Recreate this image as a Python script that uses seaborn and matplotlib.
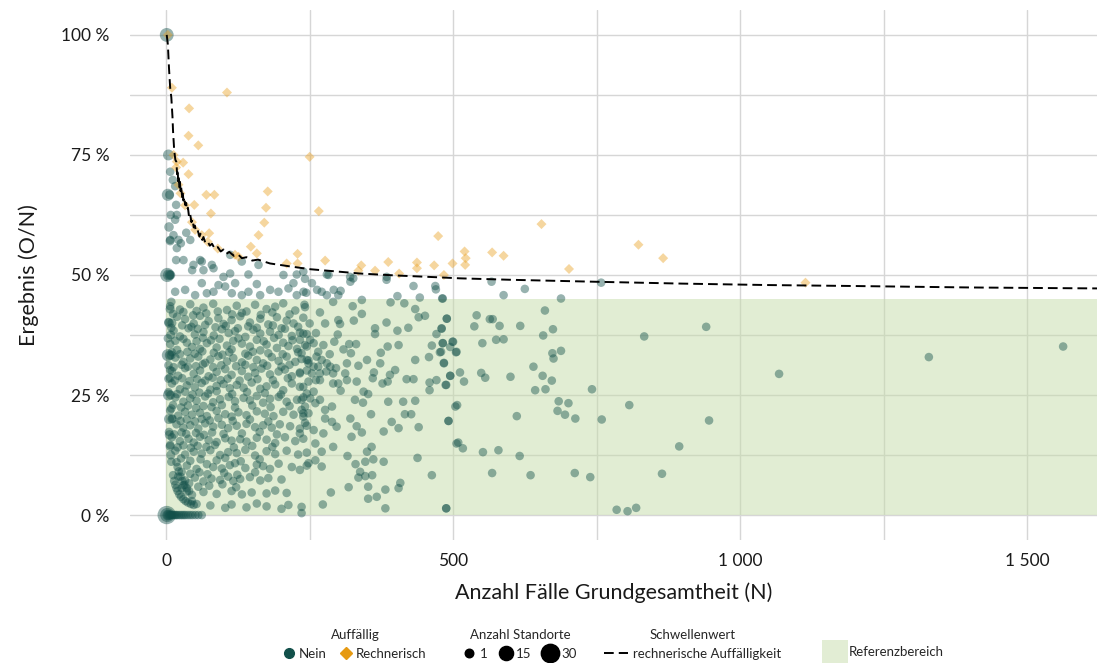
import matplotlib
matplotlib.use("Agg")
import matplotlib.pyplot as plt
from matplotlib.lines import Line2D
from matplotlib.patches import Patch, Rectangle
import seaborn as sns
import pandas as pd

# ---------------- data ----------------
# small-N sites with several Standorte: (N, Ergebnis %, Anzahl Standorte)
small_pts = [(1, 0, 30), (2, 0, 15), (3, 0, 6), (4, 0, 4), (1, 100, 14), (2, 50, 15), (4, 50, 6),
             (6, 50, 3), (8, 50, 2), (3, 33.3, 9), (6, 33.3, 3), (9, 33.3, 2), (4, 25, 6), (8, 25, 2),
             (5, 20, 4), (10, 20, 2), (5, 40, 3), (10, 40, 2), (3, 66.7, 9), (4, 75, 6), (5, 60, 3),
             (6, 16.7, 3), (7, 28.6, 2), (7, 14.3, 2), (8, 37.5, 2), (9, 22.2, 1), (10, 30, 1),
             (7, 42.9, 2), (8, 12.5, 2), (9, 44.4, 1), (9, 11.1, 1), (7, 57.1, 2), (6, 66.7, 2), (8, 62.5, 1)]

zero_N = [5, 7, 9, 11, 13, 15, 17, 19, 22, 25, 28, 31, 34, 38, 42, 46, 51, 56, 62]

arc_pts = [(12, 8.3), (14, 7.1), (16, 6.3), (18, 5.6), (20, 5), (23, 4.3), (26, 3.8), (30, 3.3),
           (34, 2.9), (38, 2.6), (43, 2.3), (48, 2.1), (20, 10), (22, 9.1), (25, 8), (28, 7.1),
           (32, 6.3), (36, 5.6), (40, 5)]

curve_pts = [(7, 71.5), (11.6, 69.8), (15.7, 68.5), (17.4, 64.6), (18.6, 62.5), (15.7, 61.5), (12.8, 58.3),
             (21.5, 57.3), (7, 57.3), (35, 58.8), (42, 57.3), (25.6, 56.6), (18.6, 55.6), (17.4, 53.1),
             (30.2, 53.1), (47.6, 52.1), (62.1, 52.8), (79.6, 52.1), (45.3, 51), (65, 51), (82.5, 51.4),
             (111.5, 50.3), (143.4, 50.1), (160.9, 52.1), (131.8, 52.8), (204.4, 50), (227.6, 50.1),
             (280, 50.1), (320.6, 49.6), (384.4, 49.6), (99.9, 49.6), (59.2, 53.1), (111.5, 54.2)]

top_pts = [(15.7, 46.5), (33.1, 46.9), (50.5, 45.8), (62.1, 48.3), (70.9, 46.2), (91.2, 47.9), (102.8, 47.6),
           (120.2, 48.3), (131.8, 45.8), (143.4, 46.5), (163.8, 45.8), (181.2, 46.9), (195.7, 46.5),
           (213.1, 47.2), (227.6, 45.8), (239.3, 46.5), (158, 48.1), (221.8, 48.3), (82.5, 46.5), (114.4, 46.2)]

dense_pts = [
    (7, 43.5), (24, 42.8), (42, 43.9), (53, 42.5), (65, 43.2), (82, 44.0), (106, 42.7), (123, 43.6), (140, 42.4),
    (155, 43.8), (175, 42.9), (190, 43.4), (204, 44.1), (225, 42.6), (242, 43.3),
    (4, 40.2), (19, 41.3), (33, 40.8), (48, 39.9), (59, 41.5), (74, 40.4), (91, 41.0), (100, 39.8), (114, 40.6),
    (129, 41.4), (146, 40.1), (164, 40.9), (178, 39.7), (193, 41.2), (210, 40.5), (222, 39.9), (239, 41.1),
    (13, 38.4), (24, 37.2), (39, 38.9), (50, 37.6), (65, 38.1), (83, 37.4), (97, 38.7), (109, 37.9), (120, 38.3),
    (138, 37.1), (152, 38.6), (164, 37.8), (181, 38.2), (196, 37.5), (207, 38.8), (219, 37.3), (233, 38.0), (245, 37.7),
    (7, 35.6), (19, 34.4), (36, 35.9), (45, 35.0), (59, 34.6), (71, 35.8), (88, 34.9), (106, 35.3), (114, 34.5),
    (132, 35.7), (146, 35.1), (164, 34.3), (175, 35.5), (193, 34.8), (204, 35.9), (213, 35.2), (228, 34.6), (242, 35.4),
    (16, 32.8), (30, 31.9), (42, 32.6), (56, 33.0), (68, 31.7), (77, 32.4), (91, 33.1), (106, 32.0), (117, 32.7),
    (132, 31.8), (143, 33.2), (158, 32.3), (169, 31.6), (184, 32.9), (196, 32.1), (210, 33.0), (225, 31.9), (236, 32.5), (248, 32.2),
    (7, 30.2), (21, 29.0), (33, 30.6), (48, 29.4), (59, 30.1), (74, 28.9), (88, 29.8), (103, 30.4), (114, 29.2),
    (132, 30.0), (143, 28.8), (155, 29.6), (166, 30.5), (181, 29.3), (196, 29.9), (207, 30.3), (219, 28.9), (233, 29.7), (245, 30.1),
    (10, 27.4), (24, 26.2), (36, 27.0), (50, 26.6), (62, 27.5), (77, 26.1), (88, 26.9), (100, 27.3), (111, 26.4),
    (123, 27.1), (135, 26.5), (149, 27.6), (164, 26.3), (175, 26.8), (190, 27.2), (204, 26.0), (219, 27.4), (233, 26.7),
    (16, 24.5), (30, 23.6), (42, 24.3), (53, 23.8), (68, 24.7), (82, 23.5), (94, 24.1), (109, 24.6), (120, 23.7),
    (135, 24.4), (146, 23.9), (158, 24.8), (169, 23.4), (181, 24.2), (196, 24.6), (210, 23.6), (228, 24.0), (239, 24.5),
    (7, 21.8), (21, 20.7), (33, 21.5), (45, 20.9), (59, 21.3), (71, 20.6), (88, 21.7), (103, 21.0), (114, 20.5),
    (126, 21.4), (140, 20.8), (158, 21.6), (172, 21.1), (187, 20.6), (204, 21.5), (222, 20.9), (239, 21.2),
    (18, 18.9), (30, 18.2), (42, 18.7), (56, 18.0), (68, 19.1), (82, 18.4), (97, 18.8), (108, 18.1), (123, 18.6),
    (140, 19.0), (155, 18.3), (169, 18.7), (184, 18.2), (198, 18.9), (216, 18.5), (233, 18.0), (245, 18.6),
    (10, 16.2), (24, 15.4), (39, 15.9), (48, 15.1), (59, 16.3), (74, 15.6), (88, 15.2), (103, 16.0), (114, 15.5),
    (129, 15.8), (140, 15.3), (158, 16.1), (175, 15.7), (190, 15.0), (207, 16.2), (225, 15.4), (239, 15.9),
    (16, 13.4), (33, 12.6), (48, 13.2), (62, 12.8), (77, 13.5), (94, 12.5), (108, 13.1), (123, 12.9), (138, 13.6),
    (155, 12.4), (175, 13.3), (190, 12.7), (210, 13.4), (230, 12.6), (245, 13.0),
    (18, 11.0), (36, 10.3), (53, 9.6), (71, 10.6), (82, 10.0), (97, 9.7), (111, 10.4), (120, 10.8), (138, 9.8),
    (158, 10.5), (169, 10.2), (181, 9.6), (196, 10.7), (219, 10.0), (245, 10.3),
    (21, 8.0), (33, 7.2), (50, 7.8), (65, 7.0), (79, 7.6), (94, 7.3), (108, 8.0), (117, 7.1), (129, 7.5),
    (146, 7.9), (164, 7.2), (178, 7.7), (201, 7.4),
    (27, 5.6), (36, 4.9), (45, 4.2), (65, 4.8), (88, 4.4), (114, 5.0), (132, 4.3), (149, 4.7), (175, 4.5), (190, 5.1), (210, 4.6),
    (45, 2.9), (53, 2.3), (77, 2.0), (103, 1.5), (114, 2.2), (140, 1.6), (158, 2.4), (175, 1.8), (201, 1.3), (213, 2.1), (236, 1.7)]

dense2_pts = [
    (12, 41.9), (30, 42.3), (47, 41.6), (70, 42.0), (90, 42.4), (115, 41.8), (132, 42.1), (165, 41.7), (185, 42.2), (215, 41.8),
    (9, 39.0), (28, 39.5), (44, 39.2), (55, 38.8), (68, 39.6), (86, 39.1), (104, 39.4), (125, 38.9), (143, 39.3),
    (158, 39.0), (186, 39.5), (201, 38.9), (230, 39.2),
    (3, 36.8), (16, 36.3), (30, 36.7), (53, 36.2), (64, 36.9), (78, 36.4), (93, 36.7), (117, 36.3), (126, 36.8),
    (158, 36.5), (170, 36.2), (188, 36.9), (220, 36.4),
    (10, 33.9), (24, 33.5), (37, 34.0), (50, 33.6), (63, 34.1), (83, 33.8), (98, 33.4), (110, 33.9), (138, 33.6),
    (151, 34.0), (178, 33.7), (203, 33.5), (230, 33.9),
    (4, 31.2), (13, 30.8), (27, 31.3), (38, 30.9), (52, 31.0), (64, 31.4), (82, 30.8), (96, 31.2), (122, 31.0),
    (138, 31.3), (152, 30.8), (176, 31.1), (201, 30.9), (215, 31.3),
    (4, 28.4), (15, 28.0), (28, 28.5), (41, 27.9), (54, 28.3), (68, 28.0), (81, 28.6), (95, 28.1), (107, 28.4),
    (128, 28.0), (159, 28.3), (186, 28.1), (212, 28.5),
    (4, 25.6), (19, 25.2), (33, 25.7), (46, 25.1), (58, 25.5), (73, 25.3), (88, 25.8), (115, 25.2), (141, 25.6),
    (172, 25.4), (200, 25.1),
    (12, 22.9), (26, 22.4), (38, 22.8), (52, 22.3), (65, 22.7), (79, 22.5), (97, 22.9), (120, 22.4), (150, 22.8),
    (182, 22.5), (215, 22.7),
    (11, 20.1), (25, 19.6), (36, 19.9), (50, 19.5), (62, 20.0), (76, 19.7), (91, 20.2), (116, 19.6), (146, 19.9), (178, 19.5),
    (5, 17.3), (14, 16.8), (27, 17.2), (35, 16.9), (52, 17.1), (66, 16.7), (80, 17.2), (100, 16.9), (132, 17.0),
    (163, 17.3), (193, 16.8),
    (7, 14.6), (20, 14.1), (30, 14.5), (43, 14.0), (55, 14.4), (70, 14.2), (85, 14.6), (118, 14.1), (150, 14.4), (185, 14.2),
    (26, 11.8), (42, 11.3), (60, 11.6), (88, 11.4), (103, 11.9), (130, 11.2), (163, 11.6),
    (27, 9.0), (42, 8.6), (58, 8.9), (72, 8.5), (101, 8.8), (124, 8.4), (155, 8.9),
    (30, 6.2), (40, 6.6), (56, 5.9), (75, 6.1), (98, 6.4), (122, 5.8)]

mid_pts = [
    (242, 49.2), (254, 48.3), (263, 46.9), (271, 46.5), (280, 45.8), (292, 46.9), (304, 46.7), (300, 45.8), (283, 50),
    (326, 49.3), (321, 48.6), (384, 49), (403, 45.6), (431, 47.7), (442, 45.3), (469, 47.7), (470, 47), (481, 45.1),
    (244, 46.3), (239, 50.7),
    (241, 43.8), (268, 42.2), (277, 39.9), (300, 40.6), (303, 39.8), (291, 44.4), (325, 43.5), (341, 44.8), (341, 41.9),
    (327, 40.5), (391, 44.3), (415, 44.1), (434, 42.9), (440, 41.2), (451, 41.5), (489, 40.9), (384, 40.1), (364, 38.9),
    (364, 37.7), (403, 38.4), (422, 39), (471, 37.7), (480, 38.9), (482, 35.8), (500, 36.1), (506, 34), (463, 35.3),
    (477, 33.9), (458, 32.9), (484, 31.6), (495, 29), (487, 27.1), (471, 28.1), (459, 27.6), (459, 26), (419, 28.3),
    (431, 28.3), (434, 32.3), (399, 30.2), (390, 29.2), (386, 27.8), (377, 27.4), (373, 31.6), (362, 29.7), (360, 28.5),
    (350, 32.3), (335, 31.1), (315, 31.6), (312, 29.5), (315, 28.1), (332, 27.8), (322, 33.7), (309, 34.5), (319, 35.6),
    (331, 35.6), (386, 35.1), (405, 35.4), (374, 33.8), (299, 37.6), (293, 36.1), (285, 33.5), (274, 35.4), (261, 37.9),
    (250, 39.9), (251, 36.5), (245, 35.1), (236, 33.7), (248, 31.6), (262, 33), (265, 30.9), (268, 29.5), (279, 29.9),
    (291, 29.5), (296, 30.6), (300, 27.4), (304, 25.9), (261, 28.1), (248, 27.8), (257, 25.7), (251, 24.3), (242, 22.6),
    (236, 21.9), (268, 24), (277, 21.9), (291, 27.4), (289, 22.6), (277, 20.1), (289, 19.4), (297, 18.4), (274, 17),
    (257, 17.7), (242, 19.2), (260, 14.9), (271, 13.2), (260, 11.4), (248, 10.8), (271, 10.1), (291, 14.2), (316, 12.3),
    (323, 16.3), (321, 20.1), (329, 24), (344, 25.7), (352, 25.2), (343, 23.4), (357, 21), (332, 18.5), (341, 17.2),
    (379, 17.4), (393, 19.4), (405, 18.1), (413, 23.6), (427, 21), (416, 21), (440, 18.3), (434, 23.8), (387, 23.6),
    (358, 14.2), (350, 13.2), (347, 11.1), (361, 11.6), (379, 11.1), (330, 10.6), (338, 9), (335, 7.8), (347, 8.1),
    (359, 8.3), (352, 5.9), (318, 5.8), (352, 3.4), (367, 3.8), (382, 5.3), (405, 5.6), (408, 6.7), (382, 1.4),
    (438, 11.9), (463, 8.3), (488, 1.4), (506, 14.9), (507, 22.9), (492, 19.6), (287, 4.7), (273, 2.2), (236, 0.4),
    (233, 9.4), (233, 17), (233, 29.5), (233, 36.5),
    (239, 37.8), (257, 35.8), (265, 34), (245, 32.3), (254, 29.5), (268, 28.1), (239, 26.7), (245, 25.3), (236, 24),
    (260, 23.3), (239, 20.5), (248, 21.2), (271, 32.3), (280, 31.6), (286, 30.9), (257, 30.9)]

far_pts = [
    (567, 48.6), (588, 45.8), (625, 47.1), (758, 48.4), (688, 45.1), (482, 45.1), (660, 42.6), (541, 41.6), (564, 40.8),
    (569, 40.8), (537, 39.3), (581, 39.4), (617, 39.4), (674, 38.7), (657, 37.4), (489, 40.9), (480, 38.8), (941, 39.2),
    (833, 37.2), (575, 36.5), (588, 36.6), (551, 35.8), (499, 36.1), (482, 35.8), (495, 35), (505, 33.9), (479, 34),
    (673, 33.7), (675, 32.6), (688, 34.2), (484, 31.7), (640, 30.9), (512, 29.7), (495, 29), (488, 27.1), (519, 27.8),
    (549, 29.6), (556, 28.6), (600, 28.8), (656, 29), (672, 28), (643, 26), (661, 26.2), (742, 26.2), (684, 23.7),
    (701, 23.3), (682, 21.7), (695, 20.9), (713, 20.1), (759, 19.9), (807, 22.9), (946, 19.7), (894, 14.3), (864, 8.6),
    (504, 22.6), (492, 19.6), (611, 20.6), (509, 15.1), (517, 13.9), (552, 13.1), (579, 13.5), (616, 12.3), (568, 8.75),
    (635, 8.3), (712, 8.75), (739, 7.9), (488, 1.4), (785, 1.1), (804, 0.8), (819, 1.5), (1068, 29.4), (1329, 32.9),
    (1563, 35.1)]

# rechnerisch auffällige Standorte (N, Ergebnis %)
rech_pts = [
    (3, 100), (10, 89), (106, 88), (40, 84.7), (39, 79), (56, 77), (250, 74.6), (18.6, 73.6), (29.6, 73.4), (39, 71),
    (21.5, 68.8), (17.4, 72.4), (70, 66.7), (84, 66.7), (177, 67.4), (49, 64.6), (78, 62.8), (174, 64), (266, 63.3),
    (171, 60.9), (75, 58.7), (161, 58.3), (50.5, 59.4), (72.6, 56.9), (147.5, 55.9), (158, 54.5), (229, 54.4),
    (229, 52.4), (210, 52.4), (277, 53), (126, 53.8), (340, 52), (387, 52.7), (437, 52.6), (437, 51.4), (467, 52),
    (499, 52.4), (364, 50.9), (406, 50.3), (335, 50.9), (484, 50), (474, 58.1), (520, 54.9), (522, 53.5), (521, 52.1),
    (568, 54.7), (588, 54), (654, 60.6), (823, 56.3), (866, 53.5), (702, 51.25), (1114, 48.4), (13, 75), (25, 67),
    (33, 64.5), (45, 61), (62, 58.3), (90, 55.5), (120, 54.2)]

# Schwellenwert (rechnerische Auffälligkeit), read along the dashed (saw-toothed) curve
thr_N = [1, 3, 5, 7, 9, 11, 12, 14, 16, 18, 19, 20, 21, 22, 23, 24, 25, 26, 28, 29, 30, 32, 33, 35, 36, 38, 40,
         42, 44, 46, 48, 50, 52, 55, 58, 60, 63, 65, 68, 72, 76, 80, 85, 90, 95, 100, 105, 110, 118, 125, 132,
         140, 150, 160, 181, 215, 251, 300, 338, 400, 477, 512, 600, 744, 900, 1050, 1200, 1400, 1622]
thr_y = [100, 98, 93, 89, 87, 83, 80, 76, 74, 73.5, 71, 72, 69.5, 70.5, 68.3, 69.4, 67.5, 68.4, 66.2, 67.2, 65.5,
         66.2, 64.6, 65, 63.5, 64, 62, 62.6, 61, 61.6, 59.9, 60.3, 59, 59.3, 58, 58.6, 57.3, 57.9, 56.8, 57.1, 56.1,
         56.5, 55.4, 55.8, 54.9, 55.3, 54.4, 54.8, 54, 54.3, 53.5, 53.7, 53, 53.2, 52.4, 51.8, 51.2, 50.7, 50.3,
         49.9, 49.5, 49.3, 49, 48.6, 48.2, 47.9, 47.7, 47.4, 47.2]

ref_low, ref_high = 0, 45
x_ticks = [0, 500, 1000, 1500]
x_ticklabels = ["0", "500", "1 000", "1 500"]
y_ticks = [0, 25, 50, 75, 100]
legend_sizes = [1, 15, 30]

# ---------------- build tables ----------------
rows = [(n, y, s) for n, y, s in small_pts]
rows += [(n, 0, 1) for n in zero_N]
for group in (arc_pts, curve_pts, top_pts, dense_pts, dense2_pts, mid_pts, far_pts):
    rows += [(n, y, 1) for n, y in group]
df_nein = pd.DataFrame(rows, columns=["N", "Ergebnis", "Standorte"])
df_rech = pd.DataFrame(rech_pts, columns=["N", "Ergebnis"])
df_thr = pd.DataFrame({"N": thr_N, "Ergebnis": thr_y})

TEAL = "#12504a"
ORANGE = "#eba52a"
REF = "#c5dca9"
GRID = "#d6d6d6"
S_MIN, S_MAX = 38, 175

sns.set_theme(style="white")
plt.rcParams["font.family"] = ["Lato", "DejaVu Sans"]

fig = plt.figure(figsize=(10.97, 6.63), dpi=100)
ax = fig.add_axes([0.1185, 0.1855, 0.8815, 0.7995])

ax.add_patch(Rectangle((0, ref_low), 5000, ref_high - ref_low, facecolor=REF, alpha=0.5,
                       edgecolor="none", zorder=1))

sns.scatterplot(data=df_nein, x="N", y="Ergebnis", size="Standorte", sizes=(S_MIN, S_MAX), size_norm=(1, 30),
                color=TEAL, alpha=0.44, edgecolor="none", linewidth=0, legend=False, ax=ax, zorder=3)
sns.scatterplot(data=df_rech, x="N", y="Ergebnis", marker="D", s=26, color=ORANGE, alpha=0.45,
                edgecolor="none", linewidth=0, legend=False, ax=ax, zorder=4)
sns.lineplot(data=df_thr, x="N", y="Ergebnis", color="black", linewidth=1.4, linestyle=(0, (5, 2.6)),
             estimator=None, sort=False, ax=ax, zorder=5)

ax.set_xlim(-63, 1622)
ax.set_ylim(-5.2, 105.2)
ax.set_xticks(x_ticks)
ax.set_xticklabels(x_ticklabels)
ax.set_xticks([250, 750, 1250], minor=True)
ax.set_yticks(y_ticks)
ax.set_yticklabels([f"{v} %" for v in y_ticks])
ax.set_yticks([12.5, 37.5, 62.5, 87.5], minor=True)
ax.set_axisbelow(True)
ax.grid(which="both", color=GRID, linewidth=1.0)
ax.tick_params(which="both", length=6, width=1.0, color=GRID, labelsize=12.5, labelcolor="#1a1a1a")
ax.tick_params(axis="x", pad=3)
ax.tick_params(axis="y", pad=9)
for s in ax.spines.values():
    s.set_visible(False)

ax.set_xlabel("Anzahl Fälle Grundgesamtheit (N)", fontsize=15.5, color="#1a1a1a", labelpad=10)
ax.set_ylabel("Ergebnis (O/N)", fontsize=15.5, color="#1a1a1a", labelpad=16)

# ---------------- legends ----------------
base = dict(frameon=False, fontsize=9.5, title_fontsize=9.5, loc="upper center",
            handletextpad=0.4, columnspacing=1.0, borderpad=0.2)
LEG_Y = 1 - 620 / 663
h1 = [Line2D([], [], marker="o", ls="", color=TEAL, markersize=7),
      Line2D([], [], marker="D", ls="", color="#e69a12", markersize=6)]
fig.legend(h1, ["Nein", "Rechnerisch"], title="Auffällig", bbox_to_anchor=(355 / 1097, LEG_Y),
           handlelength=0.8, ncol=2, **base)
sz = [(S_MIN + (v - 1) / 29 * (S_MAX - S_MIN)) ** 0.5 for v in legend_sizes]
h2 = [Line2D([], [], marker="o", ls="", color="black", markersize=m) for m in sz]
fig.legend(h2, [str(v) for v in legend_sizes], title="Anzahl Standorte",
           bbox_to_anchor=(520 / 1097, LEG_Y), handlelength=0.8, ncol=3, **base)
h3 = [Line2D([], [], color="black", lw=1.4, ls=(0, (5, 2.6)))]
fig.legend(h3, ["rechnerische Auffälligkeit"], title="Schwellenwert",
           bbox_to_anchor=(693 / 1097, LEG_Y), handlelength=1.8, ncol=1, **base)
h4 = [Patch(facecolor="#e2edd4", edgecolor="none")]
fig.legend(h4, ["Referenzbereich"], loc="center left", bbox_to_anchor=(814 / 1097, 1 - 652 / 663),
           frameon=False, fontsize=9.5, handlelength=2.0, handleheight=2.5, handletextpad=0.05,
           borderpad=0.1)

fig.savefig("out.png", dpi=100, facecolor="white")
